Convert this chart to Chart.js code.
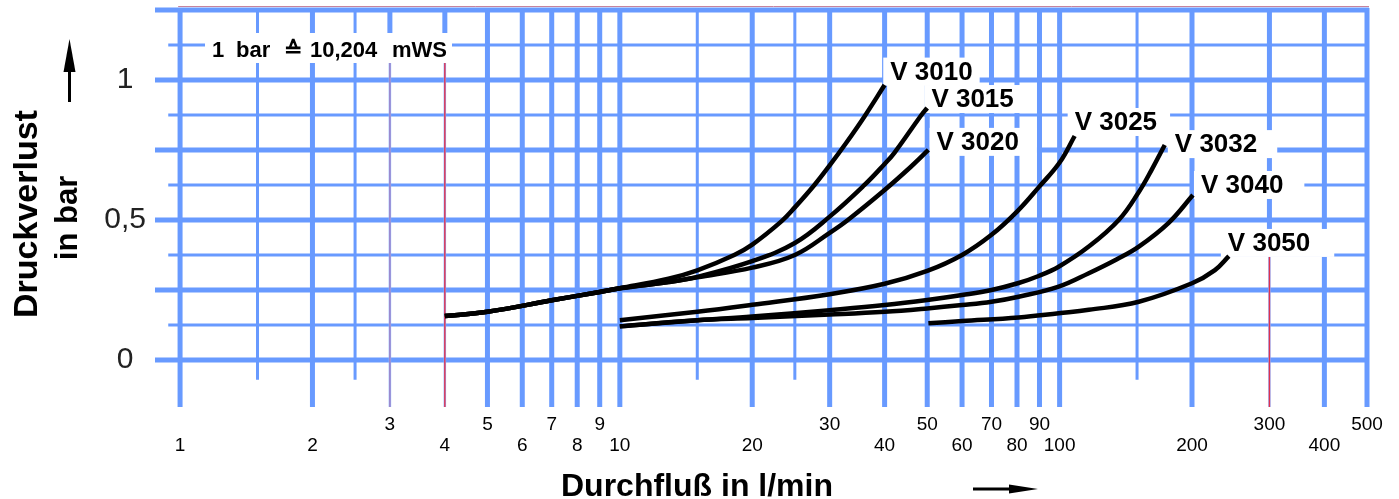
<!DOCTYPE html>
<html>
<head>
<meta charset="utf-8">
<script src="https://cdn.jsdelivr.net/npm/chart.js@4.4.1/dist/chart.umd.min.js"></script>
<style>
  html, body { margin: 0; padding: 0; background: #fff; }
  #wrap { width: 1399px; height: 499px; }
</style>
</head>
<body>
<div id="wrap"><canvas id="chart" width="1399" height="499"></canvas></div>
<script>
// values: Durchfluss (l/min) vs Druckverlust (bar)
const FLOW_3010 = [4, 5, 7, 9, 10, 12.9, 15, 18.2, 20, 23.3, 25, 27.7, 30, 32.7, 36, 40];
const LOSS_3010 = [0.157, 0.172, 0.213, 0.243, 0.256, 0.29, 0.32, 0.375, 0.412, 0.495, 0.545, 0.625, 0.695, 0.775, 0.87, 0.982];
const FLOW_3015 = [4, 5, 7, 9, 10, 12.9, 15, 20, 25, 30, 36, 40, 42.1, 48.5, 50];
const LOSS_3015 = [0.157, 0.172, 0.213, 0.243, 0.256, 0.278, 0.297, 0.353, 0.418, 0.512, 0.625, 0.70, 0.74, 0.875, 0.90];
const FLOW_3020 = [4, 5, 7, 9, 10, 12.9, 15, 20, 25, 30, 33, 40, 45.9, 50.3];
const LOSS_3020 = [0.157, 0.172, 0.213, 0.243, 0.256, 0.278, 0.295, 0.33, 0.375, 0.454, 0.5, 0.607, 0.69, 0.75];
const FLOW_3025 = [10, 15, 20, 30, 40, 50, 60, 70, 80, 90, 100, 108.2];
const LOSS_3025 = [0.142, 0.172, 0.197, 0.235, 0.272, 0.318, 0.375, 0.447, 0.53, 0.62, 0.705, 0.80];
const FLOW_3032 = [10, 15, 20, 30, 40, 50, 60, 70, 80.7, 89.6, 99.5, 116.5, 136.3, 151.4, 162, 173.4];
const LOSS_3032 = [0.120, 0.142, 0.155, 0.178, 0.196, 0.214, 0.232, 0.25, 0.275, 0.30, 0.333, 0.405, 0.5, 0.60, 0.68, 0.768];
const FLOW_3040 = [10, 15, 20, 30, 40, 50, 60, 70, 80.7, 99.5, 116.5, 135, 151.4, 177, 201];
const LOSS_3040 = [0.120, 0.142, 0.150, 0.162, 0.172, 0.184, 0.196, 0.208, 0.226, 0.262, 0.31, 0.36, 0.405, 0.49, 0.589];
const FLOW_3050 = [50.3, 60, 80.7, 99.5, 116.5, 151.4, 200, 225.5, 242.6];
const LOSS_3050 = [0.131, 0.139, 0.152, 0.167, 0.179, 0.208, 0.274, 0.321, 0.371];

const SERIES_NAMES = ['V 3010', 'V 3015', 'V 3020', 'V 3025', 'V 3032', 'V 3040', 'V 3050'];

// tick labels
const FLOW_TICKS_UPPER = [3, 5, 7, 9, 30, 50, 70, 90, 300, 500];
const FLOW_TICKS_LOWER = [1, 2, 4, 6, 8, 10, 20, 40, 60, 80, 100, 200, 400];
const LOSS_TICKS = [0, 0.5, 1];

// grid of the chart paper
const FLOW_GRID_LONG = [1, 2, 3, 4, 5, 6, 7, 8, 9, 10, 20, 30, 40, 50, 60, 70, 80, 90, 100, 200, 300, 400, 500];
const FLOW_GRID_SHORT = [1.5, 2.5, 15, 25, 150];
const LOSS_GRID_MAJOR = [0, 0.25, 0.5, 0.75, 1, 1.25];
const LOSS_GRID_MINOR = [0.125, 0.375, 0.625, 0.875, 1.125];

// where the type labels sit (left edge / middle, in chart units) and box right padding
const LABEL_FLOW = [41.2, 51.1, 52.5, 108.2, 182.8, 209.6, 241.3];
const LABEL_LOSS = [1.03, 0.932, 0.779, 0.85, 0.771, 0.625, 0.418];
const LABEL_PAD_R = [7, 12, 18, 13, 20, 21, 24];

const FONT = "'Liberation Sans', Arial, sans-serif";
const BLUE = 'rgb(104,154,255)';

function toPoints(flow, loss) {
  return flow.map((f, i) => ({ x: f, y: loss[i] }));
}

const curves = [
  toPoints(FLOW_3010, LOSS_3010),
  toPoints(FLOW_3015, LOSS_3015),
  toPoints(FLOW_3020, LOSS_3020),
  toPoints(FLOW_3025, LOSS_3025),
  toPoints(FLOW_3032, LOSS_3032),
  toPoints(FLOW_3040, LOSS_3040),
  toPoints(FLOW_3050, LOSS_3050)
];

// draws the blue paper grid, the white label boxes and the labels
const paperGrid = {
  id: 'paperGrid',
  beforeDatasetsDraw(chart) {
    const { ctx, chartArea: a, scales: { x, y } } = chart;
    ctx.save();
    ctx.lineCap = 'butt';

    function line(x1, y1, x2, y2, w, col) {
      ctx.beginPath();
      ctx.lineWidth = w;
      ctx.strokeStyle = col || BLUE;
      ctx.moveTo(x1, y1);
      ctx.lineTo(x2, y2);
      ctx.stroke();
    }

    const xMinorStart = x.getPixelForValue(0.94);
    LOSS_GRID_MINOR.forEach(v => {
      const py = y.getPixelForValue(v);
      line(xMinorStart, py, a.right, py, 3);
    });
    LOSS_GRID_MAJOR.forEach(v => {
      const py = y.getPixelForValue(v);
      line(a.left, py, a.right + 2, py, 5);
    });

    const shortEnd = y.getPixelForValue(-0.071);
    FLOW_GRID_SHORT.forEach(v => {
      const px = x.getPixelForValue(v);
      line(px, a.top - 2, px, shortEnd, 3);
    });

    // the 3, 4 and 300 lines are thin and reddish below their label boxes
    const thinBelow = { 3: 1.125, 4: 1.125, 300: 0.418 };
    const thinColor = { 3: '#9b7fc4', 4: '#e0304e', 300: '#e0304e' };
    FLOW_GRID_LONG.forEach(v => {
      const px = x.getPixelForValue(v);
      if (thinBelow[v] !== undefined) {
        const py = y.getPixelForValue(thinBelow[v]);
        line(px, a.top - 2, px, py, 5);
        line(px, py, px, a.bottom, 2.5, 'rgb(150,185,255)');
        line(px, py, px, a.bottom, 1.4, thinColor[v]);
      } else {
        line(px, a.top - 2, px, a.bottom, 5);
      }
    });

    // thin line on top of the paper
    line(x.getPixelForValue(0.99), a.top - 3.5, a.right + 2, a.top - 3.5, 1, '#c7839c');

    // note box
    ctx.fillStyle = '#fff';
    ctx.fillRect(205, 33, 247, 30);
    ctx.fillStyle = '#000';
    ctx.font = 'bold 22px ' + FONT;
    ctx.textBaseline = 'alphabetic';
    ctx.textAlign = 'left';
    [['1', 212], ['bar', 236], ['\u2259', 284], ['10,204', 310], ['mWS', 392]].forEach(([t, px]) => {
      ctx.fillText(t, px, 57);
    });

    // type labels
    ctx.font = 'bold 26px ' + FONT;
    ctx.textBaseline = 'middle';
    SERIES_NAMES.forEach((name, i) => {
      const px = x.getPixelForValue(LABEL_FLOW[i]);
      const py = y.getPixelForValue(LABEL_LOSS[i]);
      const w = ctx.measureText(name).width;
      ctx.fillStyle = '#fff';
      ctx.fillRect(px - 7, py - 14, w + 7 + LABEL_PAD_R[i], 28);
      ctx.fillStyle = '#000';
      ctx.fillText(name, px, py + 1);
    });
    ctx.restore();
  },
  afterDraw(chart) {
    const { ctx } = chart;
    ctx.save();
    ctx.fillStyle = '#000';
    ctx.strokeStyle = '#000';

    // y title
    ctx.textAlign = 'center';
    ctx.textBaseline = 'alphabetic';
    ctx.save();
    ctx.translate(37, 214);
    ctx.rotate(-Math.PI / 2);
    ctx.font = 'bold 34px ' + FONT;
    ctx.fillText('Druckverlust', 0, 0);
    ctx.restore();
    ctx.save();
    ctx.translate(77, 218);
    ctx.rotate(-Math.PI / 2);
    ctx.font = 'bold 31px ' + FONT;
    ctx.fillText('in bar', 0, 0);
    ctx.restore();

    // up arrow
    ctx.lineWidth = 3;
    ctx.beginPath();
    ctx.moveTo(69.5, 102);
    ctx.lineTo(69.5, 66);
    ctx.stroke();
    ctx.beginPath();
    ctx.moveTo(69.5, 39);
    ctx.lineTo(75.5, 72);
    ctx.lineTo(63.5, 72);
    ctx.closePath();
    ctx.fill();

    // x title
    ctx.font = 'bold 32px ' + FONT;
    ctx.fillText('Durchflu\u00df in l/min', 697, 496);

    // right arrow
    ctx.beginPath();
    ctx.moveTo(973, 489);
    ctx.lineTo(1012, 489);
    ctx.stroke();
    ctx.beginPath();
    ctx.moveTo(1038, 489);
    ctx.lineTo(1009, 484.5);
    ctx.lineTo(1009, 493.5);
    ctx.closePath();
    ctx.fill();
    ctx.restore();
  }
};

function flowAxis(ticks, pad, height) {
  return {
    type: 'logarithmic',
    position: 'bottom',
    min: 0.877,
    max: 500,
    grid: { display: false, drawTicks: false },
    border: { display: false },
    afterBuildTicks: s => { s.ticks = ticks.map(v => ({ value: v })); },
    afterFit: s => { s.height = height; s.paddingLeft = 0; s.paddingRight = 0; },
    ticks: {
      autoSkip: false,
      maxRotation: 0,
      minRotation: 0,
      padding: pad,
      color: '#000',
      font: { family: FONT, size: 19 },
      callback: v => String(v)
    }
  };
}

new Chart(document.getElementById('chart'), {
  type: 'line',
  data: {
    datasets: curves.map((pts, i) => ({
      label: SERIES_NAMES[i],
      data: pts,
      borderColor: '#000',
      borderWidth: 4.5,
      pointRadius: 0,
      fill: false,
      tension: 0.4
    }))
  },
  options: {
    responsive: false,
    animation: false,
    layout: { padding: { left: 0, right: 32, top: 10, bottom: 41 } },
    plugins: { legend: { display: false }, tooltip: { enabled: false } },
    scales: {
      x: flowAxis(FLOW_TICKS_UPPER, 6, 27),
      x2: flowAxis(FLOW_TICKS_LOWER, 0, 24),
      y: {
        type: 'linear',
        min: -0.168,
        max: 1.25,
        grid: { display: false, drawTicks: false },
        border: { display: false },
        afterBuildTicks: s => { s.ticks = LOSS_TICKS.map(v => ({ value: v })); },
        afterFit: s => { s.width = 155; s.paddingTop = 0; s.paddingBottom = 0; },
        ticks: {
          crossAlign: 'center',
          padding: 9,
          color: '#222',
          font: { family: FONT, size: 30 },
          callback: v => String(v).replace('.', ',')
        }
      }
    }
  },
  plugins: [paperGrid]
});
</script>
</body>
</html>
